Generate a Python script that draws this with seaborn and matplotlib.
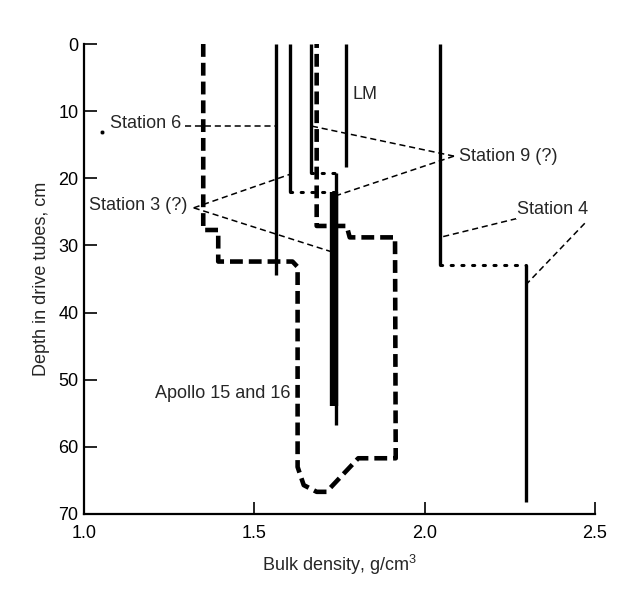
import matplotlib
matplotlib.use('Agg')
import matplotlib.pyplot as plt
import seaborn as sns

# drive tube profiles: bulk density (g/cm3) against depth (cm)
station6_density = [1.565, 1.565]
station6_depth = [0, 34.4]

station3_upper_density = [1.605, 1.605]
station3_upper_depth = [0, 22.0]
station3_step_density = [1.605, 1.733]
station3_step_depth = [22.0, 22.0]
station3_lower_density = [1.733, 1.733]
station3_lower_depth = [22.0, 53.9]

station9_upper_density = [1.666, 1.666]
station9_upper_depth = [0, 19.2]
station9_step_density = [1.666, 1.740]
station9_step_depth = [19.2, 19.2]
station9_lower_density = [1.740, 1.740]
station9_lower_depth = [19.2, 56.8]

lm_density = [1.768, 1.768]
lm_depth = [0, 18.3]

station4_upper_density = [2.045, 2.045]
station4_upper_depth = [0, 32.9]
station4_step_density = [2.045, 2.297]
station4_step_depth = [32.9, 32.9]
station4_lower_density = [2.297, 2.297]
station4_lower_depth = [32.9, 68.2]

# Apollo 15 and 16 envelope
apollo_density = [1.350, 1.350, 1.394, 1.394, 1.612, 1.627, 1.627, 1.645, 1.683,
                  1.712, 1.805, 1.915, 1.913, 1.780, 1.771, 1.683, 1.683]
apollo_depth = [0, 27.7, 27.7, 32.4, 32.4, 33.2, 63.0, 65.7, 66.7,
                66.7, 61.7, 61.7, 28.8, 28.8, 27.1, 27.1, 0]

# leader lines from the labels
leaders = [
    ([1.296, 1.565], [12.2, 12.2]),   # Station 6
    ([1.322, 1.605], [24.4, 19.4]),   # Station 3
    ([1.322, 1.730], [24.4, 31.0]),
    ([2.086, 1.666], [16.7, 12.2]),   # Station 9
    ([2.086, 1.745], [16.7, 22.5]),
    ([2.270, 2.053], [26.0, 28.7]),   # Station 4
    ([2.470, 2.300], [26.7, 35.7]),
]

label_text = ['Station 6', 'Station 3 (?)', 'Station 9 (?)', 'Station 4', 'LM', 'Apollo 15 and 16']
label_density = [1.076, 1.016, 2.102, 2.271, 1.788, 1.607]
label_depth = [11.9, 24.1, 16.7, 24.7, 7.5, 52.0]
label_align = ['left', 'left', 'left', 'left', 'left', 'right']

sns.set_style('ticks')
plt.rcParams['font.family'] = ['Liberation Sans', 'DejaVu Sans']
plt.rcParams['mathtext.fontset'] = 'custom'
plt.rcParams['mathtext.rm'] = 'Liberation Sans'
plt.rcParams['mathtext.default'] = 'regular'

fig = plt.figure(figsize=(6.35, 5.94), dpi=100)
ax = fig.add_axes([0.1323, 0.1347, 0.8047, 0.7912])


def draw(x, y, **kw):
    sns.lineplot(x=x, y=y, sort=False, estimator=None, color='black', ax=ax, **kw)


solid = dict(lw=2.4, solid_capstyle='butt')
dotted = dict(lw=2.2, linestyle=(0, (0.7, 2.8)), dash_capstyle='round')

draw(station6_density, station6_depth, **solid)
draw(station3_upper_density, station3_upper_depth, **solid)
draw(station3_step_density, station3_step_depth, **dotted)
draw(station3_lower_density, station3_lower_depth, lw=6, solid_capstyle='butt')
draw(station9_upper_density, station9_upper_depth, **solid)
draw(station9_step_density, station9_step_depth, **dotted)
draw(station9_lower_density, station9_lower_depth, **solid)
draw(lm_density, lm_depth, **solid)
draw(station4_upper_density, station4_upper_depth, **solid)
draw(station4_step_density, station4_step_depth, **dotted)
draw(station4_lower_density, station4_lower_depth, **solid)

draw(apollo_density, apollo_depth, lw=3.3, linestyle=(0, (2.8, 1.3)))

for lx, ly in leaders:
    draw(lx, ly, lw=1.1, linestyle=(0, (4, 2.5)))

sns.scatterplot(x=[1.052], y=[13.1], s=10, color='black', ax=ax)

for txt, x, y, ha in zip(label_text, label_density, label_depth, label_align):
    ax.text(x, y, txt, ha=ha, va='center', fontsize=13,
            bbox=dict(facecolor='white', edgecolor='none', pad=0.5) if txt.startswith('Station') else None)

ax.set_xlim(1.0, 2.5)
ax.set_ylim(70, 0)
ax.set_xticks([1.0, 1.5, 2.0, 2.5])
ax.set_xticklabels(['1.0', '1.5', '2.0', '2.5'])
ax.set_yticks(range(0, 71, 10))
ax.tick_params(direction='in', length=9, width=1.2, labelsize=13, colors='black')
ax.tick_params(axis='x', pad=8)
ax.tick_params(axis='y', pad=4)
for side in ['top', 'right']:
    ax.spines[side].set_visible(False)
for side in ['left', 'bottom']:
    ax.spines[side].set_linewidth(1.6)
    ax.spines[side].set_color('black')

ax.set_xlabel('Bulk density, g/cm$^{3}$', fontsize=13, labelpad=8)
ax.set_ylabel('Depth in drive tubes, cm', fontsize=13, labelpad=6)

fig.savefig('out.png', dpi=100)
